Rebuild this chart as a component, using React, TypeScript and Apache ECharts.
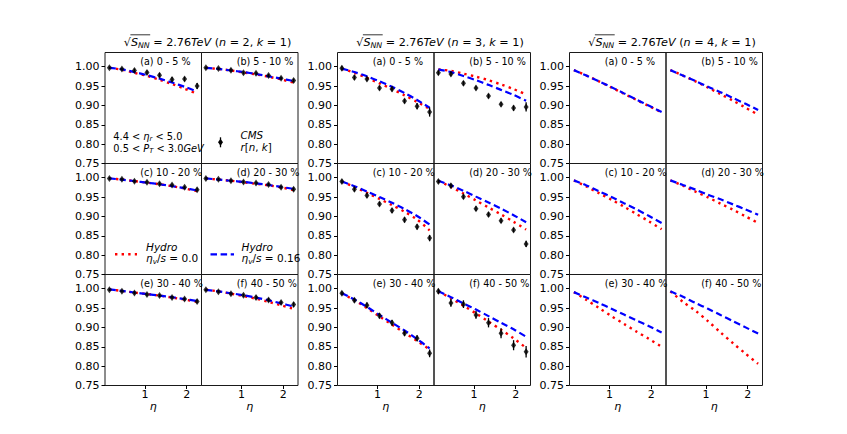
import React, { useEffect, useRef } from 'react';
import * as echarts from 'echarts';

// ---------------- data ----------------
const ETA = [0.15, 0.45, 0.75, 1.05, 1.35, 1.65, 1.95, 2.25];
const CENTRALITY_LABELS = ['(a) 0 - 5 %', '(b) 5 - 10 %', '(c) 10 - 20 %', '(d) 20 - 30 %', '(e) 30 - 40 %', '(f) 40 - 50 %'];
const HARMONICS = [2, 3, 4];
const Y_TICKS = [0.75, 0.8, 0.85, 0.9, 0.95, 1.0];
const X_TICKS = [1, 2];

// CMS r_n(eta) measurements (n = 2), six centrality classes
const CMS_N2 = [
  [0.997, 0.994, 0.990, 0.985, 0.978, 0.967, 0.968, 0.950],
  [0.997, 0.995, 0.991, 0.984, 0.983, 0.977, 0.970, 0.964],
  [0.998, 0.996, 0.991, 0.988, 0.984, 0.981, 0.975, 0.969],
  [0.998, 0.996, 0.992, 0.989, 0.986, 0.982, 0.975, 0.970],
  [0.997, 0.993, 0.989, 0.985, 0.982, 0.977, 0.973, 0.967],
  [0.997, 0.992, 0.987, 0.983, 0.977, 0.971, 0.964, 0.959],
];
const CMS_N2_ERR = [
  [0.003, 0.004, 0.005, 0.005, 0.006, 0.006, 0.006, 0.008],
  [0.003, 0.003, 0.004, 0.004, 0.004, 0.004, 0.004, 0.005],
  [0.003, 0.003, 0.004, 0.004, 0.004, 0.004, 0.004, 0.005],
  [0.003, 0.003, 0.004, 0.004, 0.004, 0.004, 0.004, 0.005],
  [0.003, 0.003, 0.004, 0.004, 0.004, 0.004, 0.004, 0.005],
  [0.003, 0.004, 0.004, 0.004, 0.005, 0.005, 0.005, 0.006],
];
// CMS (n = 3)
const CMS_N3 = [
  [0.996, 0.972, 0.968, 0.945, 0.942, 0.911, 0.898, 0.883],
  [0.984, 0.981, 0.957, 0.945, 0.924, 0.903, 0.893, 0.896],
  [0.990, 0.970, 0.954, 0.932, 0.915, 0.891, 0.873, 0.844],
  [0.990, 0.979, 0.951, 0.920, 0.905, 0.889, 0.865, 0.829],
  [0.988, 0.970, 0.957, 0.930, 0.912, 0.885, 0.872, 0.833],
  [0.993, 0.963, 0.960, 0.932, 0.912, 0.885, 0.854, 0.837],
];
const CMS_N3_ERR = [
  [0.006, 0.006, 0.006, 0.006, 0.006, 0.006, 0.008, 0.012],
  [0.006, 0.006, 0.006, 0.006, 0.006, 0.006, 0.007, 0.012],
  [0.005, 0.006, 0.006, 0.006, 0.006, 0.007, 0.007, 0.008],
  [0.005, 0.006, 0.006, 0.006, 0.006, 0.006, 0.006, 0.008],
  [0.005, 0.006, 0.007, 0.007, 0.007, 0.007, 0.008, 0.010],
  [0.007, 0.010, 0.010, 0.010, 0.012, 0.013, 0.013, 0.015],
];

// Hydro, eta_v/s = 0.0 (red dotted)
const HYDRO_IDEAL_N2 = [
  [0.997, 0.992, 0.984, 0.976, 0.966, 0.955, 0.943, 0.930],
  [0.997, 0.994, 0.990, 0.985, 0.980, 0.974, 0.967, 0.959],
  [0.998, 0.995, 0.991, 0.987, 0.983, 0.978, 0.972, 0.965],
  [0.998, 0.995, 0.992, 0.988, 0.984, 0.980, 0.975, 0.968],
  [0.998, 0.994, 0.990, 0.986, 0.982, 0.977, 0.972, 0.966],
  [0.997, 0.993, 0.987, 0.981, 0.974, 0.966, 0.957, 0.948],
];
const HYDRO_IDEAL_N3 = [
  [0.995, 0.984, 0.971, 0.957, 0.942, 0.926, 0.909, 0.891],
  [0.993, 0.989, 0.982, 0.974, 0.965, 0.954, 0.942, 0.928],
  [0.990, 0.976, 0.961, 0.945, 0.929, 0.912, 0.892, 0.864],
  [0.992, 0.976, 0.959, 0.941, 0.923, 0.905, 0.886, 0.866],
  [0.988, 0.970, 0.950, 0.928, 0.907, 0.886, 0.865, 0.843],
  [0.993, 0.975, 0.956, 0.936, 0.915, 0.894, 0.872, 0.847],
];
const HYDRO_IDEAL_N4 = [
  [0.991, 0.977, 0.962, 0.946, 0.930, 0.914, 0.898, 0.882],
  [0.991, 0.977, 0.962, 0.946, 0.929, 0.912, 0.894, 0.876],
  [0.993, 0.977, 0.960, 0.943, 0.925, 0.906, 0.887, 0.867],
  [0.993, 0.979, 0.964, 0.949, 0.933, 0.917, 0.900, 0.883],
  [0.991, 0.971, 0.950, 0.929, 0.909, 0.889, 0.870, 0.850],
  [0.993, 0.966, 0.943, 0.916, 0.887, 0.859, 0.832, 0.806],
];
// Hydro, eta_v/s = 0.16 (blue dashed)
const HYDRO_VISC_N2 = [
  [0.997, 0.993, 0.986, 0.978, 0.969, 0.959, 0.948, 0.936],
  [0.997, 0.994, 0.990, 0.986, 0.981, 0.975, 0.969, 0.963],
  [0.998, 0.995, 0.991, 0.987, 0.983, 0.978, 0.973, 0.967],
  [0.998, 0.995, 0.992, 0.989, 0.985, 0.981, 0.976, 0.971],
  [0.998, 0.994, 0.990, 0.986, 0.982, 0.978, 0.973, 0.968],
  [0.997, 0.993, 0.988, 0.983, 0.977, 0.970, 0.962, 0.954],
];
const HYDRO_VISC_N3 = [
  [0.995, 0.986, 0.975, 0.962, 0.948, 0.932, 0.914, 0.894],
  [0.993, 0.986, 0.976, 0.965, 0.953, 0.940, 0.927, 0.912],
  [0.990, 0.978, 0.964, 0.950, 0.935, 0.919, 0.901, 0.879],
  [0.992, 0.980, 0.966, 0.951, 0.936, 0.920, 0.903, 0.885],
  [0.988, 0.972, 0.953, 0.932, 0.912, 0.892, 0.870, 0.846],
  [0.993, 0.978, 0.962, 0.946, 0.929, 0.912, 0.895, 0.876],
];
const HYDRO_VISC_N4 = [
  [0.991, 0.977, 0.962, 0.947, 0.931, 0.915, 0.899, 0.883],
  [0.991, 0.977, 0.963, 0.948, 0.934, 0.919, 0.904, 0.888],
  [0.993, 0.980, 0.965, 0.950, 0.934, 0.918, 0.901, 0.883],
  [0.993, 0.981, 0.969, 0.956, 0.944, 0.931, 0.918, 0.904],
  [0.991, 0.977, 0.963, 0.948, 0.933, 0.918, 0.903, 0.887],
  [0.993, 0.979, 0.963, 0.948, 0.932, 0.916, 0.900, 0.884],
];

const CMS_DATA = [CMS_N2, CMS_N3, null];
const CMS_ERR = [CMS_N2_ERR, CMS_N3_ERR, null];
const HYDRO_IDEAL = [HYDRO_IDEAL_N2, HYDRO_IDEAL_N3, HYDRO_IDEAL_N4];
const HYDRO_VISC = [HYDRO_VISC_N2, HYDRO_VISC_N3, HYDRO_VISC_N4];

// ---------------- layout / style ----------------
const W = 847;
const H = 434;
const GROUP_LEFT = [105, 337.5, 569.5];
const PANEL_W = 96.5;
const ROW_TOP = 52.5;
const PANEL_H = 111;
const X_MIN = 0.045;
const X_MAX = 2.355;
const Y_MIN = 0.75;
const Y_MAX = 1.0365;
const FONT = 'DejaVu Sans';
const RED = '#ff0000';
const BLUE = '#0000ff';
const RED_DASH = [2.4, 4.2];
const BLUE_DASH = [6.5, 3.6];

let measureCtx: CanvasRenderingContext2D | null = null;
function measure(text: string, size: number, italic: boolean): number {
  if (!measureCtx) measureCtx = document.createElement('canvas').getContext('2d');
  if (!measureCtx) return text.length * size * 0.6;
  measureCtx.font = `${italic ? 'italic ' : ''}${size}px "${FONT}"`;
  return measureCtx.measureText(text).width;
}

type Seg = { t: string; s: 'rm' | 'it' | 'sub'; over?: boolean };

function mathText(segs: Seg[], x: number, y: number, size: number, align: 'left' | 'center' = 'left') {
  const items = segs.map((seg) => {
    const isSub = seg.s === 'sub';
    const fs = isSub ? size * 0.7 : size;
    const italic = seg.s !== 'rm';
    return { seg, fs, italic, isSub, w: measure(seg.t, fs, italic) };
  });
  const total = items.reduce((a, b) => a + b.w, 0);
  let cx = align === 'center' ? x - total / 2 : x;
  const els: any[] = [];
  let overStart = Infinity;
  let overEnd = -Infinity;
  for (const it of items) {
    const lead = it.seg.t.length - it.seg.t.trimStart().length;
    const leadW = lead ? measure(it.seg.t.slice(0, lead), it.fs, it.italic) : 0;
    const txt = it.seg.t.trim();
    if (txt) {
      els.push({
        type: 'text',
        silent: true,
        z: 100,
        x: cx + leadW,
        y: it.isSub ? y + size * 0.3 : y,
        style: {
          text: txt,
          fontSize: it.fs,
          fontFamily: FONT,
          fontStyle: it.italic ? 'italic' : 'normal',
          fill: '#000',
          align: 'left',
          verticalAlign: 'middle',
          textAlign: 'left',
          textVerticalAlign: 'middle',
        },
      });
    }
    if (it.seg.over) {
      overStart = Math.min(overStart, cx);
      overEnd = Math.max(overEnd, cx + it.w);
    }
    cx += it.w;
  }
  return { els, overStart, overEnd, total };
}

function buildOption() {
  const grid: any[] = [];
  const xAxis: any[] = [];
  const yAxis: any[] = [];
  const series: any[] = [];
  const graphic: any[] = [];

  HARMONICS.forEach((n, g) => {
    for (let r = 0; r < 3; r++) {
      for (let c = 0; c < 2; c++) {
        const p = r * 2 + c;
        const idx = grid.length;
        const left = GROUP_LEFT[g] + c * PANEL_W;
        const top = ROW_TOP + r * PANEL_H;
        grid.push({
          left,
          top,
          width: PANEL_W,
          height: PANEL_H,
          show: true,
          borderColor: '#1a1a1a',
          borderWidth: 1,
          backgroundColor: 'transparent',
          containLabel: false,
          outerBoundsMode: 'none',
        });
        xAxis.push({
          gridIndex: idx,
          type: 'value',
          min: X_MIN,
          max: X_MAX,
          axisLine: { show: false },
          splitLine: { show: false },
          axisTick: {
            show: r === 2,
            customValues: X_TICKS,
            length: 3.5,
            lineStyle: { color: '#000', width: 1 },
          },
          axisLabel: {
            show: r === 2,
            customValues: X_TICKS,
            margin: 3.5,
            fontSize: 11,
            fontFamily: FONT,
            color: '#000',
          },
          name: r === 2 ? 'η' : '',
          nameLocation: 'middle',
          nameGap: 15,
          nameTextStyle: { fontSize: 11, fontFamily: FONT, fontStyle: 'italic', color: '#000' },
        });
        yAxis.push({
          gridIndex: idx,
          type: 'value',
          min: Y_MIN,
          max: Y_MAX,
          axisLine: { show: false },
          splitLine: { show: false },
          axisTick: {
            show: c === 0,
            customValues: Y_TICKS,
            length: 3.5,
            lineStyle: { color: '#000', width: 1 },
          },
          axisLabel: {
            show: c === 0,
            customValues: Y_TICKS,
            formatter: (v: number) => v.toFixed(2),
            margin: 5.5,
            fontSize: 11,
            fontFamily: FONT,
            color: '#000',
          },
        });

        series.push({
          type: 'line',
          xAxisIndex: idx,
          yAxisIndex: idx,
          data: ETA.map((x, k) => [x, HYDRO_IDEAL[g][p][k]]),
          symbol: 'none',
          showSymbol: false,
          smooth: 0.3,
          lineStyle: { color: RED, width: 2.4, type: RED_DASH },
          z: 2,
          silent: true,
        });
        series.push({
          type: 'line',
          xAxisIndex: idx,
          yAxisIndex: idx,
          data: ETA.map((x, k) => [x, HYDRO_VISC[g][p][k]]),
          symbol: 'none',
          showSymbol: false,
          smooth: 0.3,
          lineStyle: { color: BLUE, width: 2.2, type: BLUE_DASH },
          z: 3,
          silent: true,
        });
        const cms = CMS_DATA[g];
        const err = CMS_ERR[g];
        if (cms && err) {
          series.push({
            type: 'custom',
            xAxisIndex: idx,
            yAxisIndex: idx,
            data: ETA.map((x, k) => [x, cms[p][k], err[p][k]]),
            encode: { x: 0, y: 1 },
            z: 4,
            silent: true,
            renderItem: (params: any, api: any) => {
              const x = api.value(0);
              const y = api.value(1);
              const e = api.value(2);
              const lo = api.coord([x, y - e]);
              const hi = api.coord([x, y + e]);
              return {
                type: 'line',
                shape: { x1: lo[0], y1: lo[1], x2: hi[0], y2: hi[1] },
                style: { stroke: '#000', lineWidth: 1.3 },
              };
            },
          });
          series.push({
            type: 'scatter',
            xAxisIndex: idx,
            yAxisIndex: idx,
            data: ETA.map((x, k) => [x, cms[p][k]]),
            symbol: 'diamond',
            symbolSize: [5, 7],
            itemStyle: { color: '#000' },
            z: 5,
            silent: true,
          });
        }

        // panel label
        graphic.push({
          type: 'text',
          silent: true,
          z: 100,
          x: left + 0.365 * PANEL_W,
          y: top + 8.5,
          style: {
            text: CENTRALITY_LABELS[p],
            fontSize: 9.6,
            fontFamily: FONT,
            fill: '#000',
            align: 'left',
            verticalAlign: 'middle',
            textAlign: 'left',
            textVerticalAlign: 'middle',
          },
        });
      }
    }

    // group title
    const title = mathText(
      [
        { t: '√', s: 'rm' },
        { t: 'S', s: 'it', over: true },
        { t: 'NN', s: 'sub', over: true },
        { t: ' = 2.76', s: 'rm' },
        { t: 'TeV', s: 'it' },
        { t: ' (', s: 'rm' },
        { t: 'n', s: 'it' },
        { t: ' = ' + n + ', ', s: 'rm' },
        { t: 'k', s: 'it' },
        { t: ' = 1)', s: 'rm' },
      ],
      GROUP_LEFT[g] + PANEL_W + 6,
      42,
      11.2,
      'center'
    );
    graphic.push(...title.els);
    graphic.push({
      type: 'line',
      silent: true,
      z: 100,
      shape: { x1: title.overStart - 0.5, y1: 34.8, x2: title.overEnd + 0.5, y2: 34.8 },
      style: { stroke: '#000', lineWidth: 0.8 },
    });
  });

  // annotations in the n = 2 group
  const gl = GROUP_LEFT[0];
  graphic.push(
    ...mathText(
      [
        { t: '4.4 < ', s: 'rm' },
        { t: 'η', s: 'it' },
        { t: 'r', s: 'sub' },
        { t: ' < 5.0', s: 'rm' },
      ],
      gl + 8.3,
      136.5,
      9.8
    ).els,
    ...mathText(
      [
        { t: '0.5 < ', s: 'rm' },
        { t: 'P', s: 'it' },
        { t: 'T', s: 'sub' },
        { t: ' < 3.0', s: 'rm' },
        { t: 'GeV', s: 'it' },
      ],
      gl + 8.3,
      148,
      9.8
    ).els
  );
  // CMS legend (panel b)
  const bl = gl + PANEL_W;
  graphic.push(
    {
      type: 'line',
      silent: true,
      z: 100,
      shape: { x1: bl + 19, y1: 137.3, x2: bl + 19, y2: 147.3 },
      style: { stroke: '#000', lineWidth: 1.3 },
    },
    {
      type: 'polygon',
      silent: true,
      z: 101,
      shape: { points: [[bl + 19, 138.8], [bl + 21.5, 142.3], [bl + 19, 145.8], [bl + 16.5, 142.3]] },
      style: { fill: '#000' },
    },
    ...mathText([{ t: 'CMS', s: 'it' }], bl + 39, 135, 10.3).els,
    ...mathText(
      [
        { t: 'r', s: 'it' },
        { t: '[', s: 'rm' },
        { t: 'n', s: 'it' },
        { t: ', ', s: 'rm' },
        { t: 'k', s: 'it' },
        { t: ']', s: 'rm' },
      ],
      bl + 39,
      146.7,
      10.3
    ).els
  );
  // Hydro legends (panels c and d)
  const legendY = 254.3;
  graphic.push(
    {
      type: 'line',
      silent: true,
      z: 100,
      shape: { x1: gl + 10, y1: legendY, x2: gl + 32, y2: legendY },
      style: { stroke: RED, lineWidth: 2.4, lineDash: RED_DASH },
    },
    ...mathText([{ t: 'Hydro', s: 'it' }], gl + 41, 246.7, 10.5).els,
    ...mathText(
      [
        { t: 'η', s: 'it' },
        { t: 'v', s: 'sub' },
        { t: '/', s: 'rm' },
        { t: 's', s: 'it' },
        { t: ' = 0.0', s: 'rm' },
      ],
      gl + 41,
      258.3,
      10.5
    ).els,
    {
      type: 'line',
      silent: true,
      z: 100,
      shape: { x1: bl + 9, y1: legendY, x2: bl + 32.5, y2: legendY },
      style: { stroke: BLUE, lineWidth: 2.2, lineDash: BLUE_DASH },
    },
    ...mathText([{ t: 'Hydro', s: 'it' }], bl + 40, 246.7, 10.5).els,
    ...mathText(
      [
        { t: 'η', s: 'it' },
        { t: 'v', s: 'sub' },
        { t: '/', s: 'rm' },
        { t: 's', s: 'it' },
        { t: ' = 0.16', s: 'rm' },
      ],
      bl + 40,
      258.3,
      10.5
    ).els
  );

  return {
    animation: false,
    backgroundColor: '#ffffff',
    grid,
    xAxis,
    yAxis,
    series,
    graphic,
  };
}

export default function App() {
  const ref = useRef<HTMLDivElement>(null);
  useEffect(() => {
    if (!ref.current) return;
    const chart = echarts.init(ref.current, undefined, { renderer: 'svg' });
    chart.setOption(buildOption() as any);
    return () => {
      chart.dispose();
    };
  }, []);
  return (
    <div
      ref={ref}
      style={{ position: 'absolute', left: 0, top: 0, width: W, height: H, background: '#fff' }}
    />
  );
}
